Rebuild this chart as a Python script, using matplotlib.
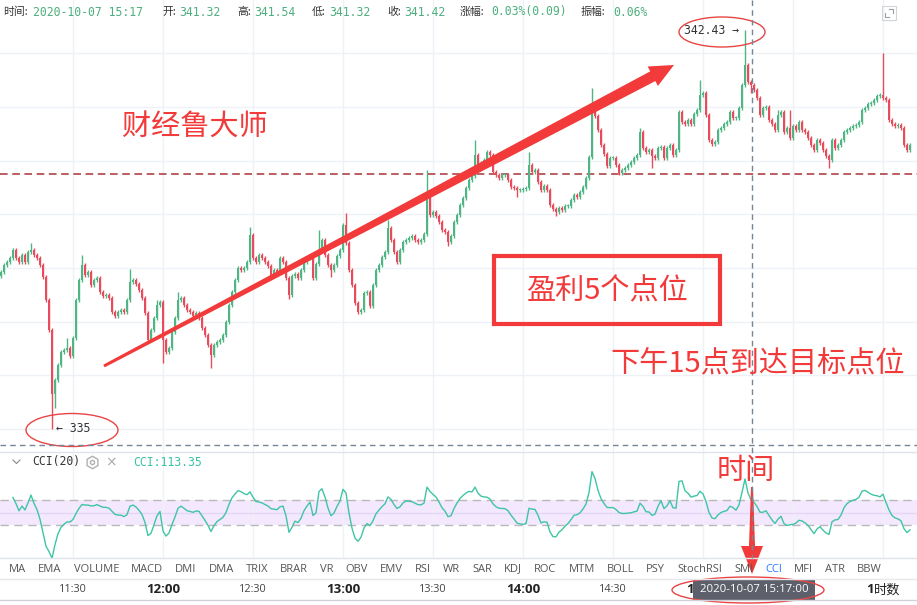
import numpy as np
import pandas as pd
import matplotlib
matplotlib.use("Agg")
import matplotlib.pyplot as plt
from matplotlib.patches import Ellipse, Polygon, Rectangle

# 1-minute closes, first candle sits 24 minutes before 11:30
closes = [
    337.92, 338.05, 338.11, 338.18, 338.33, 338.18, 338.11, 338.24, 338.11, 338.30,
    338.33, 338.24, 338.18, 338.05, 337.83, 337.40, 336.84, 335.65, 335.91, 336.19,
    336.43, 336.47, 336.51, 336.36, 336.69, 337.40, 337.77, 338.05, 337.87, 337.92,
    337.68, 337.77, 337.81, 337.55, 337.48, 337.50, 337.44, 337.18, 337.10, 337.18,
    337.22, 337.18, 337.40, 337.74, 337.77, 337.70, 337.59, 337.44, 337.16, 336.66,
    336.84, 337.07, 337.31, 337.37, 336.66, 336.43, 336.51, 336.81, 337.07, 337.40,
    337.44, 337.31, 337.22, 337.18, 337.10, 337.16, 337.07, 336.88, 336.75, 336.56,
    336.38, 336.56, 336.62, 336.66, 336.75, 336.99, 337.31, 337.55, 337.77, 338.00,
    337.96, 338.00, 338.11, 338.61, 338.18, 338.11, 338.24, 338.18, 338.11, 338.04,
    337.85, 337.96, 337.92, 338.18, 338.11, 337.81, 337.50, 337.85, 337.88, 337.81,
    337.96, 338.11, 338.18, 338.22, 337.81, 338.07, 338.33, 338.52, 338.24, 338.05,
    337.96, 338.05, 338.22, 338.33, 338.80, 338.46, 337.96, 337.68, 337.35, 337.18,
    337.22, 337.53, 337.55, 337.29, 337.68, 337.96, 338.05, 338.20, 338.30, 338.74,
    338.52, 338.30, 338.11, 338.33, 338.48, 338.52, 338.56, 338.59, 338.52, 338.48,
    338.52, 338.63, 339.36, 338.99, 339.04, 338.97, 338.85, 338.71, 338.67, 338.48,
    338.59, 338.85, 338.99, 339.17, 339.30, 339.49, 339.64, 339.71, 340.10, 339.86,
    339.95, 340.01, 340.16, 340.10, 339.79, 339.73, 339.67, 339.73, 339.73, 339.64,
    339.51, 339.49, 339.45, 339.45, 339.47, 339.49, 339.92, 339.79, 339.82, 339.60,
    339.45, 339.53, 339.45, 339.17, 339.10, 339.04, 339.12, 339.08, 339.15, 339.15,
    339.26, 339.36, 339.32, 339.41, 339.51, 339.67, 340.07, 341.03, 340.83, 340.57,
    340.29, 340.12, 339.90, 340.05, 340.05, 339.92, 339.77, 339.82, 339.86, 339.92,
    339.97, 340.05, 340.10, 340.53, 340.23, 340.16, 340.20, 340.08, 340.05, 340.23,
    340.25, 340.05, 340.23, 340.29, 340.10, 340.20, 340.90, 340.72, 340.68, 340.75,
    340.68, 340.87, 340.94, 341.22, 341.26, 340.85, 340.38, 340.31, 340.34, 340.57,
    340.61, 340.68, 340.72, 340.90, 340.79, 340.79, 340.98, 341.41, 341.78, 341.46,
    341.41, 341.31, 341.16, 340.85, 340.98, 341.00, 340.75, 340.68, 340.57, 340.85,
    340.90, 340.53, 340.61, 340.42, 340.64, 340.57, 340.72, 340.57, 340.53, 340.42,
    340.29, 340.20, 340.38, 340.33, 340.20, 340.08, 340.01, 340.38, 340.23, 340.29,
    340.38, 340.53, 340.57, 340.61, 340.64, 340.66, 340.72, 340.94, 340.98, 341.05,
    341.07, 341.13, 341.20, 341.22, 341.16, 341.13, 340.75, 340.68, 340.64, 340.66,
    340.61, 340.29, 340.20, 340.29,
]
first_open = 337.85
start_minute = -24  # minutes relative to 11:30

# long shadows that stick out of the bodies
spike_highs = {10: 338.46, 22: 336.69, 27: 338.24, 43: 337.98, 52: 337.40, 59: 337.55,
               83: 338.76, 106: 338.71, 115: 339.02, 129: 338.89, 142: 339.82,
               158: 340.38, 176: 340.16, 197: 341.35, 213: 340.61, 233: 341.50,
               248: 342.43, 259: 340.94, 263: 340.94, 294: 342.00}
spike_lows = {17: 335.00, 18: 335.39, 54: 336.23, 70: 336.14, 96: 337.42, 110: 337.83,
              149: 338.40, 172: 339.32, 185: 338.97, 217: 339.86, 250: 341.26, 276: 339.86}

time_ticks = [0, 30, 60, 90, 120, 150, 180, 210, 240, 270]
time_labels = ["11:30", "12:00", "12:30", "13:00", "13:30", "14:00", "14:30", "15:00", "15:30", "16:00"]
price_grid = [335, 336, 337, 338, 339, 340, 341, 342]
target_line = 339.75
crosshair_minute = 227  # 15:17

header = [("时间:", "2020-10-07 15:17"), ("开:", "341.32"), ("高:", "341.54"), ("低:", "341.32"),
          ("收:", "341.42"), ("涨幅:", "0.03%(0.09)"), ("振幅:", "0.06%")]
header_x = [(3, 33), (162, 179), (237, 254), (312, 329), (387, 404), (460, 491), (581, 613)]
tabs = ["MA", "EMA", "VOLUME", "MACD", "DMI", "DMA", "TRIX", "BRAR", "VR", "OBV", "EMV", "RSI",
        "WR", "SAR", "KDJ", "ROC", "MTM", "BOLL", "PSY", "StochRSI", "SMI", "CCI", "MFI", "ATR", "BBW"]
active_tab = "CCI"

UP, DOWN = "#4fb584", "#e84b5b"
GRID = "#eef1f6"
RED = "#f23a3a"
CJK = ["Noto Sans CJK SC", "DejaVu Sans"]
MONO = ["DejaVu Sans Mono", "Noto Sans CJK SC"]
UI = ["Open Sans", "DejaVu Sans"]

# candle table
closes = np.array(closes)
opens = np.concatenate([[first_open], closes[:-1]])
highs = np.maximum(opens, closes) + 0.04
lows = np.minimum(opens, closes) - 0.04
for k, v in spike_highs.items():
    highs[k] = v
for k, v in spike_lows.items():
    lows[k] = v
t = np.arange(len(closes)) + start_minute

df = pd.DataFrame({"o": opens, "h": highs, "l": lows, "c": closes})
tp = (df.h + df.l + df.c) / 3
sma = tp.rolling(20, min_periods=5).mean()
mad = tp.rolling(20, min_periods=5).apply(lambda s: np.mean(np.abs(s - s.mean())), raw=True)
cci = (tp - sma) / (0.015 * mad)

W, H = 917, 605
fig = plt.figure(figsize=(W / 100, H / 100), dpi=100)
xlim = (-24.33, 281.33)

# ---- price pane
ax = fig.add_axes([0, 1 - 452 / H, 1, 452 / H])
ax.set_xlim(*xlim)
ax.set_ylim(334.57, 342.99)
ax.axis("off")
for p in price_grid:
    ax.axhline(p, color=GRID, lw=1, zorder=0)
for m in time_ticks:
    ax.axvline(m, color=GRID, lw=1, zorder=0)
ax.axhline(target_line, color="#a83236", lw=1.1, ls=(0, (5, 3)), zorder=1)

colors = np.where(closes >= opens, UP, DOWN)
ax.vlines(t, lows, highs, colors=colors, lw=1, zorder=2)
body_h = np.maximum(np.abs(closes - opens), 0.012)
ax.bar(t, body_h, bottom=np.minimum(opens, closes), width=0.68, color=colors, lw=0, zorder=3)

lo_k = int(np.argmin(lows))
hi_k = int(np.argmax(highs))
ax.annotate("← %g" % lows[lo_k], (t[lo_k], lows[lo_k]), xytext=(3, 0), textcoords="offset points",
            ha="left", va="center", fontsize=8.3, family=MONO, color="#333")
ax.annotate("%.2f →" % highs[hi_k], (t[hi_k], highs[hi_k]), xytext=(-4, 0), textcoords="offset points",
            ha="right", va="center", fontsize=8.3, family=MONO, color="#333")

# ---- CCI pane
cax = fig.add_axes([0, 1 - 558 / H, 1, 106 / H])
cax.set_xlim(*xlim)
cax.set_ylim(-364, 484)
cax.axis("off")
cax.axhspan(-100, 100, color="#f3e8fd", lw=0, zorder=0)
for m in time_ticks:
    cax.axvline(m, color=GRID, lw=1, zorder=0)
cax.axhline(0, color="#e4d6f6", lw=1, zorder=1)
for lvl in (100, -100):
    cax.axhline(lvl, color="#b9b9b9", lw=1, ls=(0, (6, 4)), zorder=1)
cax.plot(t, cci, color="#3ec5a5", lw=1, zorder=2)

# ---- time axis (labels under the date tag stay hidden, as on screen)
tax = fig.add_axes([0, 1 - 600 / H, 1, 21 / H])
tax.set_xlim(*xlim)
tax.set_ylim(0, 1)
tax.axis("off")
for m, lab in zip(time_ticks, time_labels):
    if lab == "15:30":
        continue
    if lab.endswith(":00"):
        tax.text(m, 0.5, lab, ha="center", va="center", fontsize=9.5, fontweight="bold",
                 family=UI, color="#222")
    else:
        tax.text(m, 0.5, lab, ha="center", va="center", fontsize=7.8, family=UI, color="#444")

# ---- overlay in pixel units
ov = fig.add_axes([0, 0, 1, 1], zorder=5)
ov.set_xlim(0, W)
ov.set_ylim(H, 0)
ov.axis("off")
ov.patch.set_alpha(0)

for y, c in ((452, "#e0e3eb"), (558, "#e0e3eb"), (579, "#e6e8ee"), (600, "#cfd2d8")):
    ov.plot([0, W], [y, y], color=c, lw=1)
cross_x = 73 + 3 * crosshair_minute - 2
ov.plot([cross_x, cross_x], [0, 558], color="#758696", lw=1, ls=(0, (4, 3)))
ov.plot([0, W], [445, 445], color="#758696", lw=1, ls=(0, (4, 3)))

for (lab, val), (xl, xv) in zip(header, header_x):
    ov.text(xl, 12, lab, fontsize=7.8, family=CJK, color="#333", va="center")
    ov.text(xv, 12, val, fontsize=8.3, family=MONO, color="#4caf7d", va="center")

# corner icon
ov.add_patch(Rectangle((882, 6), 14, 14, fill=False, ec="#d2d4d8", lw=0.8))
ov.plot([889, 893, 893], [9, 9, 13], color="#9a9ea6", lw=0.8)
ov.plot([885, 885, 889], [13, 17, 17], color="#9a9ea6", lw=0.8)

# CCI header
ov.plot([13, 16.5, 20], [460, 463.5, 460], color="#888", lw=0.8)
ov.text(32, 462, "CCI(20)", fontsize=8.3, family=MONO, color="#333", va="center")
ov.plot([92], [462], marker="h", ms=9, mfc="white", mec="#b0b0b0", mew=1)
ov.plot([92], [462], marker="o", ms=3, mfc="white", mec="#b0b0b0", mew=1)
ov.text(111, 462, "×", fontsize=10, color="#aaa", ha="center", va="center")
ov.text(133, 462, "CCI:113.35", fontsize=8.3, family=MONO, color="#36c2a2", va="center")

# indicator tabs
renderer = fig.canvas.get_renderer()
x = 9
for name in tabs:
    txt = ov.text(x, 569, name, fontsize=8, family=UI, va="center",
                  color="#2979ff" if name == active_tab else "#555")
    x += txt.get_window_extent(renderer).width + 12

# date tag on the time axis
ov.add_patch(Rectangle((693, 580), 122, 20, color="#5d606b", lw=0))
ov.text(754, 590, "2020-10-07 15:17:00", fontsize=8.2, family=UI, color="white",
        ha="center", va="center")
ov.text(874, 590, "时数", fontsize=9.5, family=CJK, color="#222", va="center",
        bbox=dict(boxstyle="square,pad=0.05", fc="white", ec="none"))


def tapered_arrow(a, start, tip, w0, w1, head_len, head_w):
    start = np.array(start, float)
    tip = np.array(tip, float)
    d = (tip - start) / np.hypot(*(tip - start))
    n = np.array([-d[1], d[0]])
    base = tip - d * head_len
    pts = [start + n * w0 / 2, base + n * w1 / 2, base + n * head_w / 2, tip,
           base - n * head_w / 2, base - n * w1 / 2, start - n * w0 / 2]
    a.add_patch(Polygon(pts, closed=True, color=RED, lw=0))


tapered_arrow(ov, (104, 366), (674, 65), 3, 11, 24, 22)
tapered_arrow(ov, (752, 487), (752, 574), 2, 6, 28, 22)

ov.text(195, 127, "财经鲁大师", fontsize=21, family=CJK, color=RED, ha="center", va="center")
ov.add_patch(Rectangle((494, 256), 226, 68, fill=False, ec=RED, lw=3))
ov.text(607, 291, "盈利5个点位", fontsize=21, family=CJK, color=RED, ha="center", va="center")
ov.text(758, 363, "下午15点到达目标点位", fontsize=21, family=CJK, color=RED, ha="center", va="center")
ov.text(746, 471, "时间", fontsize=21, family=CJK, color=RED, ha="center", va="center")

for (cx, cy, ew, eh) in ((72, 430, 92, 33), (722, 32, 86, 30), (748, 590, 152, 26)):
    ov.add_patch(Ellipse((cx, cy), ew, eh, fill=False, ec="#e84444", lw=1))

fig.savefig("out.png", dpi=100)
